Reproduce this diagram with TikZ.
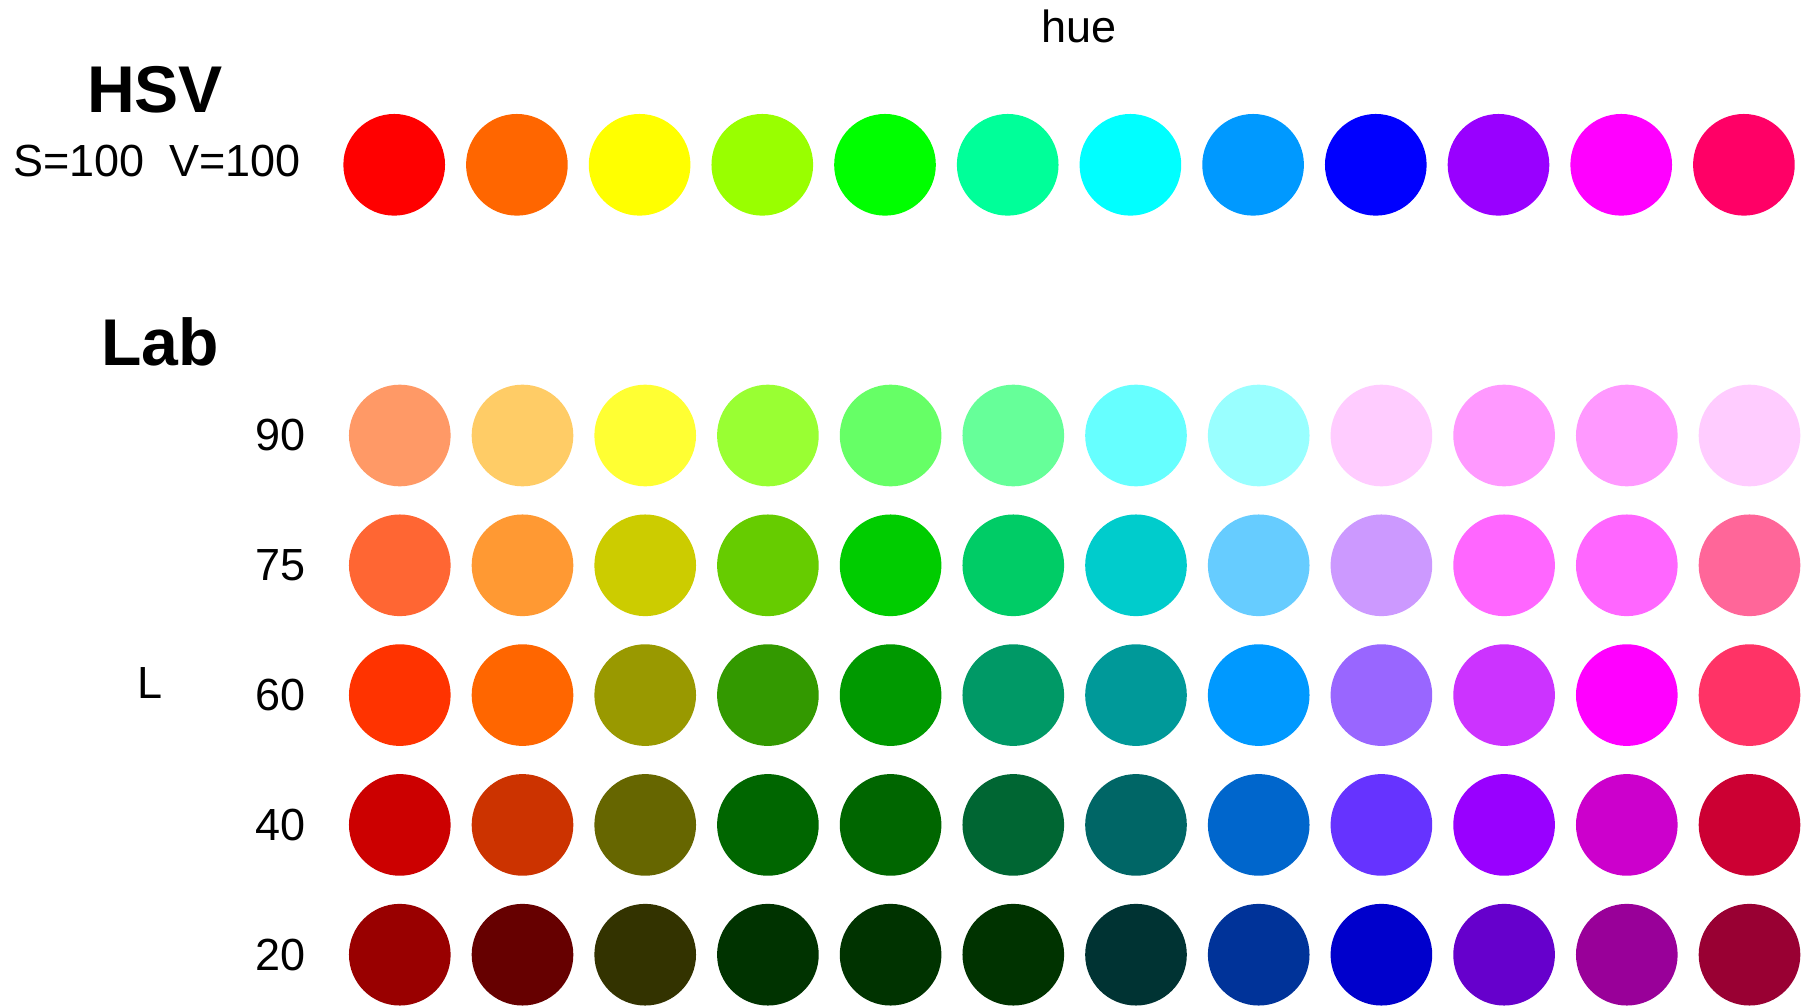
\documentclass[tikz,border=0pt]{standalone}
\usepackage{fontspec}
\setmainfont{Liberation Sans}
\tikzset{
  huedot/.style={circle, inner sep=0pt, minimum size=1.016cm, fill=#1},
  lbl/.style={inner sep=0pt, font=\fontsize{12.8}{15}\selectfont},
  title/.style={inner sep=0pt, font=\fontsize{18.8}{22}\selectfont\bfseries}
}
\begin{document}
\begin{tikzpicture}[x=0.01cm, y=-0.01cm]
    % Parameters
    \def\dx{122.7} % Distance between dots
    \def\hsvx{394.2} % First HSV dot
    \def\labx{399.8} % First Lab dot
    \def\dy{129.8} % Distance between Lab rows
    \fill[white] (0,0) rectangle (1811,1006);

    % Titles and axis labels
    \node[lbl] (hue) at (1079, 26.7) {hue};
    \node[title] (hsv) at (155, 90) {HSV};
    \node[lbl] (sv) at (157, 161) {S=100\ \ V=100};
    \node[title] (lab) at (160, 342) {Lab};
    \node[lbl] (ell) at (150, 683) {L};

    % HSV row (S=100, V=100)
    \foreach \c [count=\i from 0] in {FF0000,FF6600,FFFF00,99FF00,00FF00,00FF99,00FFFF,0099FF,0000FF,9900FF,FF00FF,FF0066} {
        \pgfmathsetmacro{\xpos}{\hsvx + \i*\dx}
        \definecolor{dotcol}{HTML}{\c}
        \node[huedot=dotcol] (h\i) at (\xpos, 164.8) {};
    }

    % Lab rows, one per lightness
    \foreach \lval/\row [count=\r from 0] in {
        90/{FF9966,FFCC66,FFFF33,99FF33,66FF66,66FF99,66FFFF,99FFFF,FFCCFF,FF99FF,FF99FF,FFCCFF},
        75/{FF6633,FF9933,CCCC00,66CC00,00CC00,00CC66,00CCCC,66CCFF,CC99FF,FF66FF,FF66FF,FF6699},
        60/{FF3300,FF6600,999900,339900,009900,009966,009999,0099FF,9966FF,CC33FF,FF00FF,FF3366},
        40/{CC0000,CC3300,666600,006600,006600,006633,006666,0066CC,6633FF,9900FF,CC00CC,CC0033},
        20/{990000,660000,333300,003300,003300,003300,003333,003399,0000CC,6600CC,990099,990033}} {
        \pgfmathsetmacro{\ypos}{435.5 + \r*\dy}
        \node[lbl] (l\lval) at (280.5, \ypos) {\lval};
        \foreach \c [count=\i from 0] in \row {
            \pgfmathsetmacro{\xpos}{\labx + \i*\dx}
            \definecolor{dotcol}{HTML}{\c}
            \node[huedot=dotcol] (lab\lval-\i) at (\xpos, \ypos) {};
        }
    }
\end{tikzpicture}
\end{document}
